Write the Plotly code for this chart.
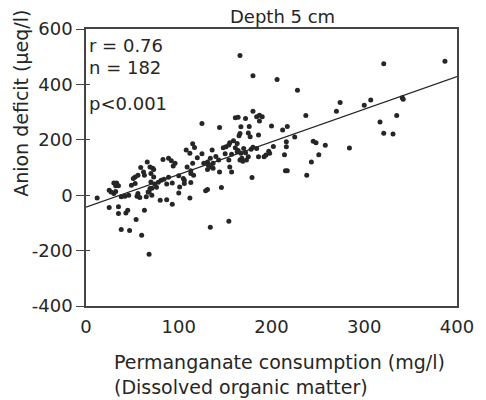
import plotly.graph_objects as go

# Permanganate consumption (mg/l)
x_vals = [166, 180, 206, 228, 321, 387, 237, 212, 217, 270, 274, 300, 307, 341, 342, 317, 335, 321, 331,
          216, 216, 202, 197, 194, 214, 245, 248, 258, 284, 251, 243, 215, 217, 238,
          125, 144, 161, 164, 172, 180, 184, 187, 190, 187, 167, 166, 165, 175, 177, 186,
          115, 117, 108, 112, 136, 151, 159, 163, 155, 154, 161, 164, 170, 180, 184, 148, 163, 157, 167, 172, 178,
          198, 134, 131, 135, 137, 144, 155, 157, 166, 168, 169, 175, 179, 146, 131, 186, 192, 143, 154, 173,
          83, 89, 92, 96, 94, 73, 109, 113, 116, 127, 132, 131, 137, 93, 101, 106, 106, 113, 100, 80, 87, 93, 112,
          129, 134, 154, 68, 71, 74, 78, 81, 84, 89, 76, 71, 87,
          66, 12, 25, 30, 33, 32, 35, 25, 27, 30, 32, 35, 35, 38, 42, 46, 45, 43, 49, 53, 53, 51, 56, 62, 63,
          56, 58, 55, 65, 67, 69, 70, 63, 54, 38, 47, 60, 68, 72, 70, 73,
          113, 115, 59, 69, 120, 125, 140, 150, 200, 176, 225, 105, 100]
# Anion deficit (µeq/l)
y_vals = [504, 431, 418, 379, 475, 484, 288, 235, 248, 303, 335, 325, 344, 352, 346, 264, 288, 224, 221,
          193, 175, 176, 159, 145, 146, 195, 189, 180, 170, 146, 120, 88, 88, 72,
          259, 244, 280, 281, 277, 303, 283, 289, 283, 268, 247, 223, 215, 225, 211, 217,
          186, 172, 163, 151, 163, 175, 197, 187, 189, 181, 171, 161, 169, 173, 169, 171, 157, 148, 151, 153, 166,
          151, 133, 120, 102, 97, 84, 102, 84, 127, 133, 123, 139, 64, 28, 21, 139, 139, 127, 127, 127,
          129, 133, 124, 115, 105, 93, 102, 78, 72, 115, 108, 93, 115, 44, 30, 42, 54, 46, 8, -18, -16, -33, -10,
          16, -116, -94, 12, 0, 40, 47, 54, 58, 65, 29, 25, 40,
          120, -10, -44, 44, 44, 34, 34, 18, 12, 6, 13, -42, -66, -6, -4, 0, -54, -64, 36, 42, 66, 60, 72, 84, 72,
          6, -8, -4, -6, 12, 24, 48, -54, -88, -124, -127, -145, -213, 97, 78, 66,
          88, 115, 100, 102, 135, 150, 140, 150, 250, 248, 210, 60, 70]

# Regression line
reg_x = [0, 400]
intercept = -43
slope = 1.178
reg_y = [intercept + slope * v for v in reg_x]

x_ticks = [0, 100, 200, 300, 400]
y_ticks = [-400, -200, 0, 200, 400, 600]
y_ticktext = ["-400", "-200", "0", "200", "400", "600"]

ink = "#262626"
font = "DejaVu Sans"

fig = go.Figure()
fig.add_trace(go.Scatter(x=x_vals, y=y_vals, mode="markers",
                         marker=dict(size=5, color=ink), showlegend=False, hoverinfo="skip"))
fig.add_trace(go.Scatter(x=reg_x, y=reg_y, mode="lines",
                         line=dict(color=ink, width=1.2), showlegend=False, hoverinfo="skip"))
fig.add_trace(go.Scatter(x=[None], y=[None], yaxis="y2", showlegend=False))

fig.update_layout(
    width=486, height=400,
    margin=dict(l=86, r=21, t=29, b=94),
    paper_bgcolor="white", plot_bgcolor="white",
    font=dict(family=font, color=ink, size=18),
    xaxis=dict(range=[0, 400], tickvals=x_ticks, ticks="", showgrid=False, zeroline=False,
               showline=True, linecolor="#444", linewidth=1.5, mirror=True,
               ticklabelstandoff=4,
               tickfont=dict(size=18, family=font, color=ink)),
    yaxis=dict(range=[-400, 600], tickvals=y_ticks, ticktext=y_ticktext, ticks="outside", ticklen=8,
               tickcolor="#444", tickwidth=1.2, showgrid=False, zeroline=False,
               showline=True, linecolor="#444", linewidth=1.5, mirror=True,
               tickfont=dict(size=18, family=font, color=ink)),
    yaxis2=dict(range=[-400, 600], tickvals=y_ticks, ticks="inside", ticklen=4, tickcolor="#444",
                tickwidth=1.2, showticklabels=False, showgrid=False, zeroline=False,
                overlaying="y", side="left"),
    showlegend=False,
)

ann = [
    dict(text="Depth 5 cm", x=0.53, y=1.0, xref="paper", yref="paper", xanchor="center", yanchor="bottom",
         showarrow=False, font=dict(size=18)),
    dict(text="r = 0.76", x=0.003, y=0.985, xref="paper", yref="paper", xanchor="left", yanchor="top",
         showarrow=False, font=dict(size=18)),
    dict(text="n = 182", x=0.003, y=0.905, xref="paper", yref="paper", xanchor="left", yanchor="top",
         showarrow=False, font=dict(size=18)),
    dict(text="p<0.001", x=0.003, y=0.775, xref="paper", yref="paper", xanchor="left", yanchor="top",
         showarrow=False, font=dict(size=18)),
    dict(text="Anion deficit (µeq/l)", x=-0.175, y=0.73, xref="paper", yref="paper", xanchor="center",
         yanchor="middle", textangle=-90, showarrow=False, font=dict(size=19)),
    dict(text="Permanganate consumption (mg/l)", x=0.07, y=-0.155, xref="paper", yref="paper",
         xanchor="left", yanchor="top", showarrow=False, font=dict(size=19)),
    dict(text="(Dissolved organic matter)", x=0.07, y=-0.245, xref="paper", yref="paper",
         xanchor="left", yanchor="top", showarrow=False, font=dict(size=19)),
]
fig.update_layout(annotations=ann)

fig.write_html("out.html")
